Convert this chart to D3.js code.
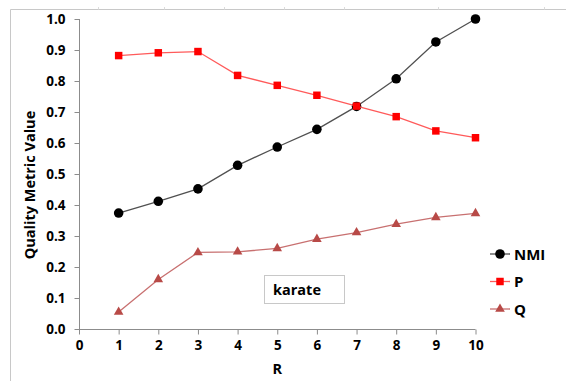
<!DOCTYPE html>
<html>
<head>
<meta charset="utf-8">
<script src="https://cdn.jsdelivr.net/npm/d3@7"></script>
<style>
  html, body { margin: 0; padding: 0; background: #fff; }
  svg text { font-family: "Open Sans", "Liberation Sans", sans-serif; font-weight: bold; fill: #000; }
</style>
</head>
<body>
<svg id="chart" width="566" height="381"></svg>
<script>
// Quality metrics vs. R for the karate network
const rValues = [1, 2, 3, 4, 5, 6, 7, 8, 9, 10];
const nmiValues = [0.374, 0.412, 0.452, 0.528, 0.587, 0.644, 0.718, 0.807, 0.926, 1.0];
const pValues = [0.882, 0.891, 0.895, 0.818, 0.786, 0.754, 0.719, 0.685, 0.639, 0.617];
const qValues = [0.055, 0.160, 0.247, 0.249, 0.260, 0.290, 0.311, 0.338, 0.360, 0.373];
const xTicks = [0, 1, 2, 3, 4, 5, 6, 7, 8, 9, 10];
const yTicks = [0, 0.1, 0.2, 0.3, 0.4, 0.5, 0.6, 0.7, 0.8, 0.9, 1.0];
const seriesNames = ["NMI", "P", "Q"];
const datasetLabel = "karate";

const svg = d3.select("#chart");

// outer frame (left and top edges)
const frame = svg.append("g").attr("stroke", "#c8c8c8").attr("stroke-width", 1);
frame.append("line").attr("x1", 10.5).attr("x2", 10.5).attr("y1", 9.5).attr("y2", 381);
frame.append("line").attr("x1", 10.5).attr("x2", 566).attr("y1", 9.5).attr("y2", 9.5);
[98, 164, 224, 284, 344, 438, 544].forEach(x => {
  frame.append("line").attr("x1", x + 0.5).attr("x2", x + 0.5).attr("y1", 7).attr("y2", 9.5).attr("stroke", "#dcdcdc");
});

const x = d3.scaleLinear().domain([0, 10]).range([79, 475.5]);
const y = d3.scaleLinear().domain([0, 1]).range([329, 19]);

// axes
const xAxis = svg.append("g")
  .attr("transform", `translate(0,${y(0) + 0.5})`)
  .call(d3.axisBottom(x).tickValues(xTicks).tickSize(5).tickPadding(6).tickFormat(d3.format("d")));
const yAxis = svg.append("g")
  .attr("transform", `translate(${x(0) + 0.5},0)`)
  .call(d3.axisLeft(y).tickValues(yTicks).tickSize(5).tickPadding(9).tickFormat(d3.format(".1f")));
[xAxis, yAxis].forEach(a => {
  a.selectAll("path, line").attr("stroke", "#8c8c8c");
  a.select(".domain").attr("d", null);
  a.selectAll("text").style("font-size", "13.5px").attr("font-family", null).attr("fill", "#000");
});
xAxis.append("line").attr("x1", x(0)).attr("x2", x(10)).attr("y1", 0).attr("y2", 0).attr("stroke", "#8c8c8c");
yAxis.append("line").attr("x1", 0).attr("x2", 0).attr("y1", y(0)).attr("y2", y(1)).attr("stroke", "#8c8c8c");

// axis titles
svg.append("text").attr("x", (x(0) + x(10)) / 2).attr("y", 374)
  .attr("text-anchor", "middle").style("font-size", "14.5px").text("R");
svg.append("text").attr("transform", `translate(35,${y(0.5) + 11}) rotate(-90)`)
  .attr("text-anchor", "middle").style("font-size", "14.5px").text("Quality Metric Value");

const series = [
  { name: seriesNames[0], values: nmiValues, line: "#505050", fill: "#000000", shape: d3.symbolCircle, size: 72 },
  { name: seriesNames[1], values: pValues, line: "#ff5a5a", fill: "#ff0000", shape: d3.symbolSquare, size: 56 },
  { name: seriesNames[2], values: qValues, line: "#c87070", fill: "#b84a47", shape: d3.symbolTriangle, size: 40 }
];

const lineGen = d3.line().x(d => x(d[0])).y(d => y(d[1]));

series.forEach(s => {
  const pts = rValues.map((r, i) => [r, s.values[i]]);
  svg.append("path").datum(pts).attr("d", lineGen)
    .attr("fill", "none").attr("stroke", s.line).attr("stroke-width", 1.3);
  svg.append("g").selectAll("path").data(pts).join("path")
    .attr("transform", d => `translate(${x(d[0])},${y(d[1])})`)
    .attr("d", d3.symbol(s.shape, s.size))
    .attr("fill", s.fill);
});

// legend
const legend = svg.append("g");
series.forEach((s, i) => {
  const ly = 254 + i * 27.5;
  legend.append("line").attr("x1", 490).attr("x2", 510).attr("y1", ly).attr("y2", ly)
    .attr("stroke", s.line).attr("stroke-width", 1.3);
  legend.append("path").attr("transform", `translate(500,${ly})`)
    .attr("d", d3.symbol(s.shape, s.size)).attr("fill", s.fill);
  legend.append("text").attr("x", 514).attr("y", ly + 5.5).style("font-size", "15px").text(s.name);
});

// dataset label box
svg.append("rect").attr("x", 264.5).attr("y", 275.5).attr("width", 80).attr("height", 28)
  .attr("fill", "#fff").attr("stroke", "#c8c8c8");
svg.append("text").attr("x", 273).attr("y", 295).style("font-size", "14.5px").text(datasetLabel);
</script>
</body>
</html>
